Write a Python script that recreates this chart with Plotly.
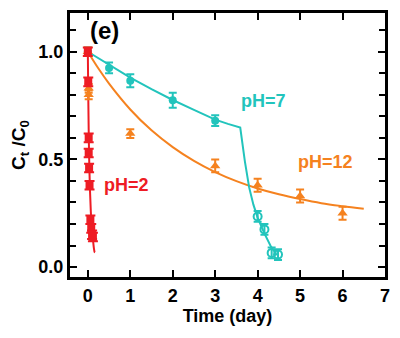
import plotly.graph_objects as go

# ---- data ----
# pH=2 (red squares)
ph2_x = [0, 0.01, 0.02, 0.02, 0.03, 0.04, 0.06, 0.08, 0.10, 0.12]
ph2_y = [1.0, 0.86, 0.60, 0.53, 0.46, 0.38, 0.22, 0.18, 0.15, 0.14]
ph2_err = [0.02] * len(ph2_x)
ph2_fit_x = [0, 0.01, 0.02, 0.03, 0.05, 0.07, 0.09, 0.11, 0.13, 0.145, 0.16, 0.17]
ph2_fit_y = [1.0, 0.80, 0.64, 0.52, 0.36, 0.26, 0.19, 0.15, 0.11, 0.085, 0.07, 0.068]

# pH=7 (teal, filled then open circles)
ph7_x = [0, 0.5, 1, 2, 3]
ph7_y = [1.0, 0.925, 0.865, 0.775, 0.68]
ph7_err = [0.02, 0.025, 0.03, 0.035, 0.025]
ph7_open_x = [4.0, 4.16, 4.33, 4.48]
ph7_open_y = [0.235, 0.175, 0.066, 0.058]
ph7_open_err = [0.025, 0.025, 0.025, 0.025]
ph7_fit_x = [0, 0.5, 1, 1.5, 2, 2.5, 3, 3.3, 3.59, 3.7, 3.8, 3.9, 4.0, 4.15, 4.3, 4.45]
ph7_fit_y = [1.0, 0.938, 0.88, 0.826, 0.776, 0.73, 0.685, 0.665, 0.648,
             0.49, 0.37, 0.29, 0.23, 0.16, 0.10, 0.055]

# pH=12 (orange triangles)
ph12_x = [0, 0.02, 0.02, 1, 3, 4, 5, 6]
ph12_y = [1.0, 0.83, 0.80, 0.62, 0.47, 0.38, 0.33, 0.25]
ph12_err = [0.02, 0.02, 0.02, 0.02, 0.03, 0.03, 0.03, 0.03]
ph12_fit_x = [0, 0.25, 0.5, 1, 1.5, 2, 2.5, 3, 3.5, 4, 4.5, 5, 5.5, 6, 6.5]
ph12_fit_y = [1.0, 0.922, 0.852, 0.732, 0.635, 0.557, 0.493, 0.441, 0.399,
              0.365, 0.338, 0.316, 0.297, 0.283, 0.271]

x_ticks = [0, 1, 2, 3, 4, 5, 6, 7]
y_ticks = [0.0, 0.5, 1.0]
y_tick_labels = ["0.0", "0.5", "1.0"]

RED = "#ee1c24"
TEAL = "#22c4bc"
ORANGE = "#f5821f"

fig = go.Figure()

# fit lines
fig.add_trace(go.Scatter(x=ph12_fit_x, y=ph12_fit_y, mode="lines",
                         line=dict(color=ORANGE, width=2), line_shape="spline"))
fig.add_trace(go.Scatter(x=ph7_fit_x, y=ph7_fit_y, mode="lines",
                         line=dict(color=TEAL, width=2)))
fig.add_trace(go.Scatter(x=ph2_fit_x, y=ph2_fit_y, mode="lines",
                         line=dict(color=RED, width=2), line_shape="spline"))

# markers
fig.add_trace(go.Scatter(x=ph7_x, y=ph7_y, mode="markers",
                         marker=dict(symbol="circle", size=8, color=TEAL),
                         error_y=dict(type="data", array=ph7_err, color=TEAL,
                                      thickness=2, width=4)))
fig.add_trace(go.Scatter(x=ph7_open_x, y=ph7_open_y, mode="markers",
                         marker=dict(symbol="circle-open", size=8, color=TEAL,
                                     line=dict(width=2)),
                         error_y=dict(type="data", array=ph7_open_err, color=TEAL,
                                      thickness=2, width=4)))
fig.add_trace(go.Scatter(x=ph12_x, y=ph12_y, mode="markers",
                         marker=dict(symbol="triangle-up", size=9, color=ORANGE),
                         error_y=dict(type="data", array=ph12_err, color=ORANGE,
                                      thickness=2, width=4)))
fig.add_trace(go.Scatter(x=ph2_x, y=ph2_y, mode="markers",
                         marker=dict(symbol="square", size=8, color=RED),
                         error_y=dict(type="data", array=ph2_err, color=RED,
                                      thickness=2, width=5)))

font_b = "Liberation Sans"
fig.add_annotation(x=0.39, y=1.097, text="<b>(e)</b>", showarrow=False,
                   font=dict(family=font_b, size=24, color="black"))
fig.add_annotation(x=4.14, y=0.773, text="<b>pH=7</b>", showarrow=False,
                   font=dict(family=font_b, size=18, color=TEAL))
fig.add_annotation(x=5.6, y=0.486, text="<b>pH=12</b>", showarrow=False,
                   font=dict(family=font_b, size=18, color=ORANGE))
fig.add_annotation(x=0.9, y=0.38, text="<b>pH=2</b>", showarrow=False,
                   font=dict(family=font_b, size=18, color=RED))

axis_common = dict(showline=True, linecolor="black", linewidth=3, mirror="ticks",
                   ticks="inside", tickcolor="black", tickwidth=2, ticklen=7,
                   showgrid=False, zeroline=False,
                   tickfont=dict(family=font_b, size=18, color="black"))

fig.update_xaxes(range=[-0.42, 7.0], tickvals=x_ticks,
                 ticktext=[f"<b>{v}</b>" for v in x_ticks],
                 title=dict(text="<b>Time (day)</b>", standoff=4,
                            font=dict(family=font_b, size=18, color="black")),
                 **axis_common)
fig.update_yaxes(range=[-0.046, 1.18], tickvals=y_ticks,
                 ticktext=[f"<b>{t}</b>" for t in y_tick_labels],
                 minor=dict(dtick=0.1, tick0=0, ticks="inside", ticklen=6,
                            tickwidth=2, tickcolor="black"),
                 title=dict(text="<b>C<sub>t</sub> /C<sub>0</sub></b>", standoff=8,
                            font=dict(family=font_b, size=19, color="black")),
                 **axis_common)

fig.update_layout(width=400, height=338, showlegend=False,
                  margin=dict(l=70, r=10, t=12, b=61),
                  plot_bgcolor="white", paper_bgcolor="white")

fig.write_html("out.html")
